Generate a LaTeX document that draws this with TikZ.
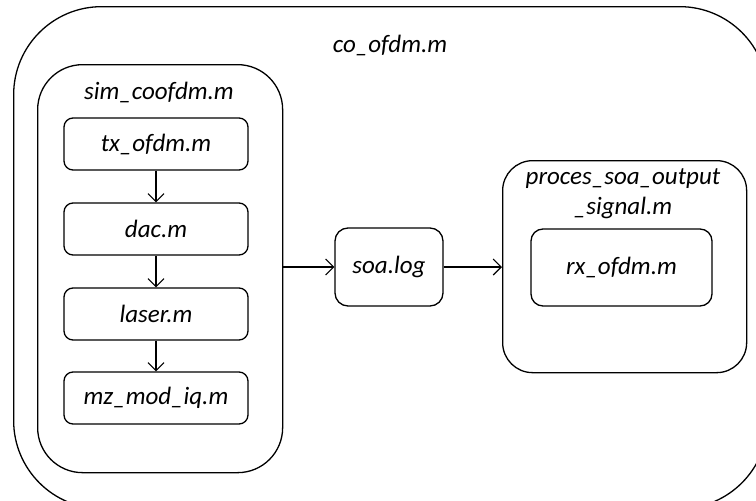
\documentclass[tikz,border=0pt]{standalone}
\usepackage{fontspec}
\setmainfont{Carlito}
\usetikzlibrary{arrows.meta}
\tikzset{
  lbl/.style={font=\fontsize{25}{30}\selectfont\itshape, inner sep=0pt},
  frame/.style={draw, line width=1.3pt, inner sep=0pt},
  modbox/.style={frame, rounded corners=9pt, minimum width=184pt, minimum height=52pt,
                 font=\fontsize{25}{30}\selectfont\itshape},
  arr/.style={draw, line width=1.1pt, -{Straight Barb[length=8pt,width=16pt,line width=1.1pt]}}
}
\begin{document}
\begin{tikzpicture}[x=1pt,y=-1pt]
\useasboundingbox (0,0) rectangle (756,501);
\clip (0,0) rectangle (756,501);
\fill[white] (0,0) rectangle (756,501);

% top-level script
\node[frame, rounded corners=88pt, minimum width=754pt, minimum height=502pt, anchor=north west] (outer) at (13,6) {};
\node[lbl] (outerlbl) at (390,45) {co\_ofdm.m};

% transmitter chain
\node[frame, rounded corners=45pt, minimum width=245pt, minimum height=408pt, anchor=north west] (sim) at (37,64) {};
\node[lbl] (simlbl) at (159,92) {sim\_coofdm.m};

\node[modbox] (tx) at (156,144) {tx\_ofdm.m};
\node[modbox] (dac) at (156,229) {dac.m};
\node[modbox] (laser) at (156,314) {laser.m};
\node[modbox] (mz) at (156,398) {mz\_mod\_iq.m};

\draw[arr] (tx) -- (dac);
\draw[arr] (dac) -- (laser);
\draw[arr] (laser) -- (mz);

% amplifier log
\node[frame, rounded corners=13pt, minimum width=108pt, minimum height=78pt,
      font=\fontsize{25}{30}\selectfont\itshape] (soa) at (389,267) {soa.log};

% receiver
\node[frame, rounded corners=30pt, minimum width=244pt, minimum height=212pt, anchor=north west] (proc) at (502,160) {};
\node[lbl] (proclbl1) at (623,179) {proces\_soa\_output};
\node[lbl] (proclbl2) at (623,208) {\_signal.m};
\node[frame, rounded corners=12pt, minimum width=181pt, minimum height=77pt,
      font=\fontsize{25}{30}\selectfont\itshape] (rx) at (621.5,267.5) {rx\_ofdm.m};

\draw[arr] (sim.east |- soa.west) -- (soa.west);
\draw[arr] (soa.east) -- (proc.west |- soa.east);
\end{tikzpicture}
\end{document}
